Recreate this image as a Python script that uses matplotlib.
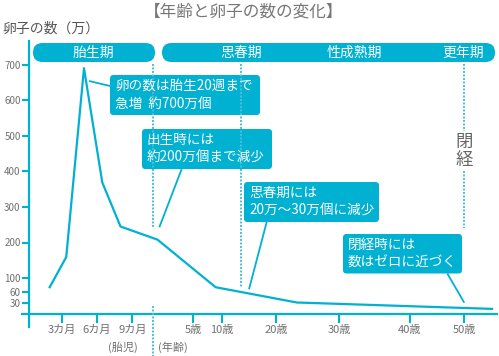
import numpy as np
import matplotlib
matplotlib.use('Agg')
import matplotlib.pyplot as plt
from matplotlib.patches import FancyBboxPatch

plt.rcParams['font.family'] = ['Noto Sans CJK JP', 'DejaVu Sans']

# ---------------- data ----------------
# fetal period: months since conception
fetal_months = [2.0, 3.4, 4.9, 6.45, 8.0]
fetal_counts = [74, 159, 691, 369, 245]        # 万個
# after birth: age in years
age_years = [0.6, 8.9, 23.3, 55.2]
age_counts = [208, 74, 31, 13]                 # 万個

x_tick_labels = ['3カ月', '6カ月', '9カ月', '5歳', '10歳', '20歳', '30歳', '40歳', '50歳']
x_tick_fetal = [3, 6, 9]          # months
x_tick_age = [5, 10, 20, 30, 40, 50]  # years
y_ticks = [30, 60, 100, 200, 300, 400, 500, 600, 700]

title = '【年齢と卵子の数の変化】'
y_label = '卵子の数（万）'
bands = ['胎生期', '思春期', '性成熟期', '更年期']
notes = [
    ['卵の数は胎生20週まで', '急増  約700万個'],
    ['出生時には', '約200万個まで減少'],
    ['思春期には', '20万～30万個に減少'],
    ['閉経時には', '数はゼロに近づく'],
]

# ---------------- style ----------------
TEAL = '#00b1d2'
DOT = '#4fbfda'
GRAY = '#707070'
W, H = 499, 356
BIRTH = 10  # combined x unit: months before birth, 10 + years after

def to_u_age(a):
    return BIRTH + np.asarray(a, dtype=float)

# piecewise (hand-drawn) horizontal scale: combined unit -> pixel
U_ANCH = np.array([-10, 0, 3, 6, 9, 10, 15, 20, 30, 40, 50, 60, 110])
P_ANCH = np.array([26 - 118.3, 26, 61.5, 97, 132.3, 152.7, 193, 222, 276, 339, 410, 464, 464 + 270])

def fwd(u):
    return np.interp(u, U_ANCH, P_ANCH)

def inv(p):
    return np.interp(p, P_ANCH, U_ANCH)

fig = plt.figure(figsize=(W / 100, H / 100), dpi=100)
fig.patch.set_facecolor('white')

AX_L, AX_R, AX_B, AX_T = 29, 497, 313.5, 41
PX_PER_UNIT = (313.5 - 65) / 700.0
ax = fig.add_axes([AX_L / W, 1 - AX_B / H, (AX_R - AX_L) / W, (AX_B - AX_T) / H])
ax.set_xscale('function', functions=(fwd, inv))
ax.set_xlim(float(inv(AX_L)), float(inv(AX_R)))
ax.set_ylim(0, (AX_B - AX_T) / PX_PER_UNIT)
ax.patch.set_alpha(0)

xs = list(fetal_months) + list(to_u_age(age_years))
ys = list(fetal_counts) + list(age_counts)
ax.plot(xs, ys, color=TEAL, lw=1.6, solid_joinstyle='round', zorder=3)

for s in ['top', 'right']:
    ax.spines[s].set_visible(False)
for s in ['left', 'bottom']:
    ax.spines[s].set_color(TEAL)
    ax.spines[s].set_linewidth(1.6)
ax.spines['left'].set_bounds(-(327 - AX_B) / PX_PER_UNIT, (AX_B - AX_T) / PX_PER_UNIT)
ax.spines['bottom'].set_bounds(float(inv(22)), float(inv(AX_R)))

xt = list(x_tick_fetal) + list(to_u_age(x_tick_age))
ax.set_xticks(xt)
ax.set_xticklabels(x_tick_labels)
ax.set_yticks(y_ticks)
ax.set_yticklabels([str(v) for v in y_ticks])
ax.tick_params(axis='x', direction='out', length=6.5, width=1.5, color=TEAL,
               labelcolor=GRAY, labelsize=8, pad=1.5)
ax.tick_params(axis='y', direction='out', length=5, width=1.5, color=TEAL,
               labelcolor=GRAY, labelsize=7, pad=1)
ax.minorticks_off()

# ---------------- overlay (pixel coordinates) ----------------
ov = fig.add_axes([0, 0, 1, 1], zorder=5)
ov.set_xlim(0, W)
ov.set_ylim(H, 0)
ov.axis('off')
ov.patch.set_alpha(0)

ov.text(244, 11.5, title, ha='center', va='center', fontsize=12, color='#777777')
ov.text(2, 29, y_label, ha='left', va='center', fontsize=10, color='#555555')

# period bands
def band(x0, x1, y0=43, h=19):
    ov.add_patch(FancyBboxPatch((x0, y0), x1 - x0, h,
                                boxstyle='round,pad=0,rounding_size=9.5',
                                fc=TEAL, ec='none'))

band(33, 155)
band(162, 495)
band_centers = [93, 241, 354, 463]
for name, cx in zip(bands, band_centers):
    ov.text(cx, 52.5, name, ha='center', va='center', fontsize=10, color='white')

# dotted period dividers
def dotted(x, y0, y1):
    ov.plot([x, x], [y0, y1], color=DOT, lw=1.4, ls=(0, (1.0, 0.8)))

dotted(152.7, 64, 228)
dotted(152.7, 306, 356)
dotted(240.7, 64, 287)
dotted(464, 64, 131)
dotted(464, 171, 228)

ov.text(464, 142, '閉', ha='center', va='center', fontsize=12.5, color='#666666')
ov.text(464, 160, '経', ha='center', va='center', fontsize=12.5, color='#666666')

# callout boxes
boxes = [(110, 75, 260, 115), (142, 129, 272, 169), (244, 182, 379, 222), (343, 234, 462, 273.5)]
leaders = [((89, 81), (110, 86)), ((181.7, 169), (159.3, 227.3)),
           ((266.7, 222), (249, 289.3)), ((447.3, 273.5), (464.3, 302.7))]
for (x0, y0, x1, y1), lines, (p, q) in zip(boxes, notes, leaders):
    ov.plot([p[0], q[0]], [p[1], q[1]], color=TEAL, lw=1.3, solid_capstyle='butt')
    ov.add_patch(FancyBboxPatch((x0, y0), x1 - x0, y1 - y0,
                                boxstyle='round,pad=0,rounding_size=3.5',
                                fc=TEAL, ec='none'))
    ov.text(x0 + 5, y0 + 11, lines[0], ha='left', va='center', fontsize=9.8, color='white')
    ov.text(x0 + 5, y0 + 28.5, lines[1], ha='left', va='center', fontsize=9.8, color='white')

# sub-axis captions
ov.text(123, 347, '(胎児)', ha='center', va='center', fontsize=8, color=GRAY)
ov.text(173, 347, '(年齢)', ha='center', va='center', fontsize=8, color=GRAY)

fig.savefig('out.png', dpi=100, facecolor='white')
